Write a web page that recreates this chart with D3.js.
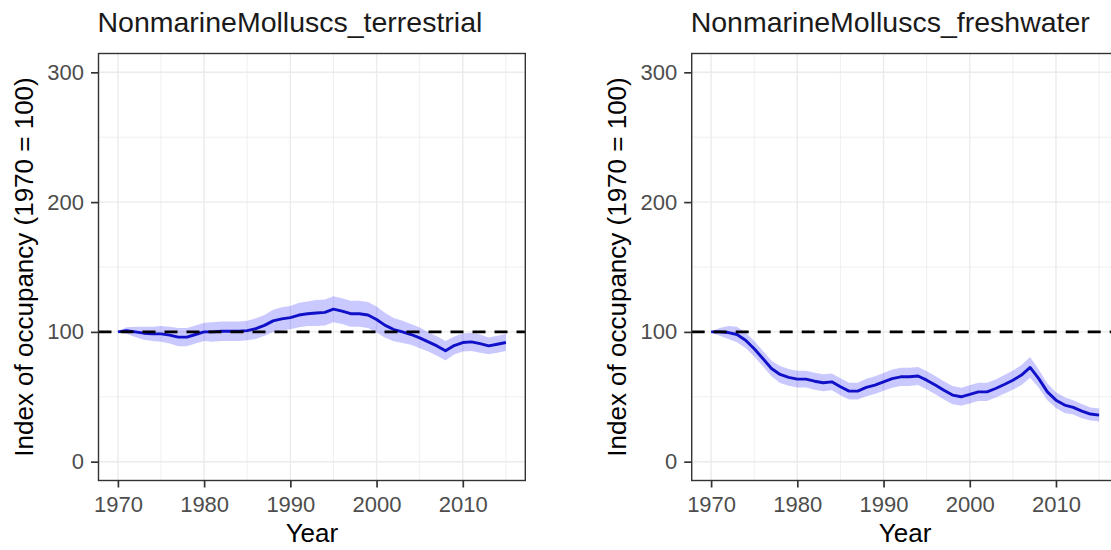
<!DOCTYPE html>
<html lang="en">
<head>
    <meta charset="UTF-8">
    <title>Nonmarine Molluscs occupancy</title>
    <script src="https://d3js.org/d3.v7.min.js"></script>
    <style>
        body { margin: 0; background: #fff; }
        svg { display: block; font-family: "Liberation Sans", Arial, sans-serif; }
        .grid-major { stroke: #ebebeb; stroke-width: 1.4; }
        .grid-minor { stroke: #ebebeb; stroke-width: 0.8; }
        .tick-lbl { fill: #4d4d4d; font-size: 22px; }
        .axis-title { fill: #000; font-size: 26px; }
        .panel-title { fill: #1a1a1a; font-size: 28.5px; }
    </style>
</head>
<body>
    <svg width="1111" height="550"></svg>
    <script>
        const years = [1970,1971,1972,1973,1974,1975,1976,1977,1978,1979,
                       1980,1981,1982,1983,1984,1985,1986,1987,1988,1989,
                       1990,1991,1992,1993,1994,1995,1996,1997,1998,1999,
                       2000,2001,2002,2003,2004,2005,2006,2007,2008,2009,
                       2010,2011,2012,2013,2014,2015];

        const terrestrialMean = [100,101,100,99,98.5,98.5,97.5,96,96,98,
                                 100,100,100.5,100.5,100.5,101,102.5,105,108.5,110,
                                 111,113,114,114.6,115,117.5,116,114,114,113,
                                 109.5,105,101.8,100,98,95.4,92.3,89.2,85.4,89.5,
                                 91.8,92.3,91,89.2,90.5,91.8];
        const terrestrialLower = [99.5,98.5,96,94,93,92.5,91,89,89,91,
                                  93,92.5,93,93,93,93.5,94.5,97,100,101,
                                  102,103.5,104.5,104.6,105,107.5,106,104,104,103,
                                  99.5,95.5,92.8,91.5,90,87.4,84.8,81.7,77.9,82.5,
                                  84.8,85.3,84,82.7,84,85.3];
        const terrestrialUpper = [100.5,103.5,104,104,104,104.5,104,103,103,105,
                                  107,107.5,108,108,108,108.5,110.5,113,117,119,
                                  120,122.5,123.5,124.6,125,127.5,126,124,124,123,
                                  119.5,114.5,110.8,108.5,106,103.4,99.8,96.7,92.9,96.5,
                                  98.8,99.3,98,95.7,97,98.3];

        const freshwaterMean = [100,100,99.5,98,93.6,87,79.5,71.8,67.2,65,
                                63.6,63.6,62,60.8,61.5,57.7,54.4,54.4,57.2,59,
                                61.5,64,65.4,65.4,66,62.8,59,55,51.3,50,
                                51.8,53.8,53.8,56.4,59.5,62.8,66.7,72.6,64,53.8,
                                47.4,43.6,41.8,39,36.7,35.9];
        const freshwaterLower = [99.5,97,94.5,92,87.6,81,73.5,65.8,60.7,58.5,
                                 57.1,57.1,55.5,54.3,55,51.2,47.9,47.9,50.5,52.2,
                                 54.6,57,58.4,58.4,59,55.8,52,48,44.3,43,
                                 44.8,46.8,46.8,49.4,52.3,55.4,59,64.6,57,47.3,
                                 41.4,37.6,36.3,33.5,31.7,30.9];
        const freshwaterUpper = [100.5,103,104.5,104,99.6,93,85.5,77.8,73.7,71.5,
                                 70.1,70.1,68.5,67.3,68,64.2,60.9,60.9,63.9,65.8,
                                 68.4,71,72.4,72.4,73,69.8,66,62,58.3,57,
                                 58.8,60.8,60.8,63.4,66.7,70.2,74.4,80.6,71,60.3,
                                 53.4,49.6,47.3,44.5,41.7,40.9];

        const xTicks = [1970, 1980, 1990, 2000, 2010];
        const xMinor = [1975, 1985, 1995, 2005, 2015];
        const yTicks = [0, 100, 200, 300];
        const yMinor = [50, 150, 250];
        const baseline = 100;

        const panels = [
            {title: "NonmarineMolluscs_terrestrial", mean: terrestrialMean, lower: terrestrialLower, upper: terrestrialUpper, left: 98.5},
            {title: "NonmarineMolluscs_freshwater", mean: freshwaterMean, lower: freshwaterLower, upper: freshwaterUpper, left: 691.7}
        ];

        const svg = d3.select("svg");
        const panelW = 426.8;
        const panelTop = 53.5, panelBottom = 480.5;

        const y = d3.scaleLinear().domain([-14.5, 314.5]).range([panelBottom, panelTop]);

        panels.forEach(p => {
            const x = d3.scaleLinear().domain([1967.75, 2017.25]).range([p.left, p.left + panelW]);
            const g = svg.append("g");
            const rows = years.map((yr, j) => ({year: yr, mean: p.mean[j], lo: p.lower[j], hi: p.upper[j]}));

            g.selectAll(".ym").data(yMinor).join("line")
                .attr("class", "grid-minor")
                .attr("x1", p.left).attr("x2", p.left + panelW)
                .attr("y1", d => y(d)).attr("y2", d => y(d));
            g.selectAll(".xm").data(xMinor).join("line")
                .attr("class", "grid-minor")
                .attr("x1", d => x(d)).attr("x2", d => x(d))
                .attr("y1", panelTop).attr("y2", panelBottom);
            g.selectAll(".yM").data(yTicks).join("line")
                .attr("class", "grid-major")
                .attr("x1", p.left).attr("x2", p.left + panelW)
                .attr("y1", d => y(d)).attr("y2", d => y(d));
            g.selectAll(".xM").data(xTicks).join("line")
                .attr("class", "grid-major")
                .attr("x1", d => x(d)).attr("x2", d => x(d))
                .attr("y1", panelTop).attr("y2", panelBottom);

            // confidence ribbon + mean trend
            g.append("path")
                .datum(rows)
                .attr("fill", "#0000ff")
                .attr("fill-opacity", 0.21)
                .attr("d", d3.area().x(d => x(d.year)).y0(d => y(d.lo)).y1(d => y(d.hi)));
            g.append("path")
                .datum(rows)
                .attr("fill", "none")
                .attr("stroke", "#1010c8")
                .attr("stroke-width", 2.9)
                .attr("stroke-linejoin", "round")
                .attr("d", d3.line().x(d => x(d.year)).y(d => y(d.mean)));

            g.append("line")
                .attr("x1", p.left).attr("x2", p.left + panelW)
                .attr("y1", y(baseline)).attr("y2", y(baseline))
                .attr("stroke", "#000")
                .attr("stroke-width", 2.9)
                .attr("stroke-dasharray", "13,9");

            g.append("rect")
                .attr("x", p.left).attr("y", panelTop)
                .attr("width", panelW).attr("height", panelBottom - panelTop)
                .attr("fill", "none")
                .attr("stroke", "#333")
                .attr("stroke-width", 1.4);

            // axes, ggplot style
            const xAxis = g.append("g")
                .attr("transform", `translate(0,${panelBottom})`)
                .call(d3.axisBottom(x).tickValues(xTicks).tickFormat(d3.format("d")).tickSize(7).tickPadding(8));
            const yAxis = g.append("g")
                .attr("transform", `translate(${p.left},0)`)
                .call(d3.axisLeft(y).tickValues(yTicks).tickSize(7.5).tickPadding(7));
            [xAxis, yAxis].forEach(a => {
                a.attr("font-family", null).attr("font-size", null);
                a.select(".domain").remove();
                a.selectAll(".tick line").attr("stroke", "#333").attr("stroke-width", 1.7);
                a.selectAll(".tick text").attr("class", "tick-lbl").attr("fill", null);
            });
            xAxis.selectAll(".tick text").attr("dy", null).attr("y", 31);

            g.append("text")
                .attr("class", "panel-title")
                .attr("x", p.left - 1)
                .attr("y", 32)
                .text(p.title);

            g.append("text")
                .attr("class", "axis-title")
                .attr("text-anchor", "middle")
                .attr("x", p.left + panelW / 2)
                .attr("y", 541.5)
                .text("Year");

            g.append("text")
                .attr("class", "axis-title")
                .attr("text-anchor", "middle")
                .attr("transform", `translate(${p.left - 65.5},${(panelTop + panelBottom) / 2}) rotate(-90)`)
                .text("Index of occupancy (1970 = 100)");
        });
    </script>
</body>
</html>
